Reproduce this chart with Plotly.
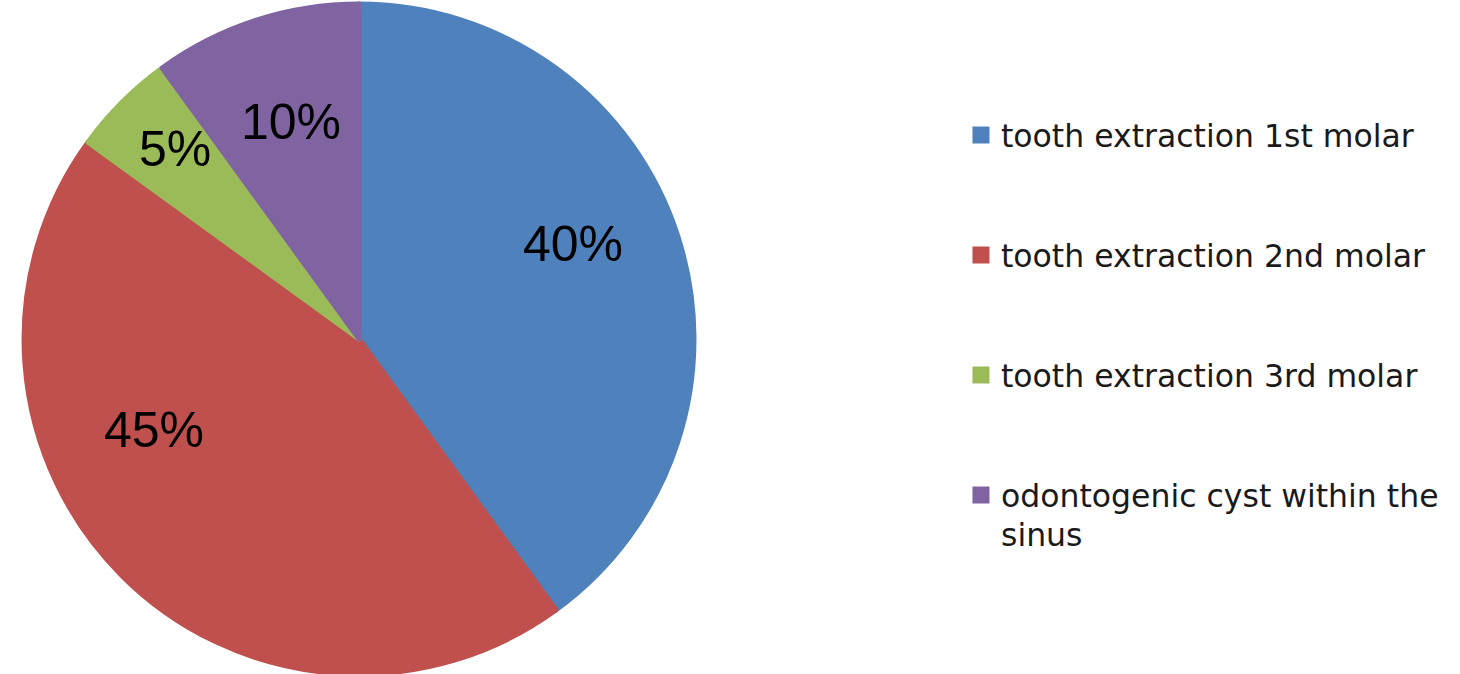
import math
import plotly.graph_objects as go

categories = ["tooth extraction 1st molar", "tooth extraction 2nd molar",
              "tooth extraction 3rd molar", "odontogenic cyst within the<br>sinus"]
values = [40, 45, 5, 10]
colors = ["#4F81BD", "#C0504D", "#9BBB59", "#8064A2"]

# label placement style (radial fraction and angular nudge, degrees)
label_radius = [0.70, 0.67, 0.79, 0.68]
label_angle_nudge = [-6, 21, 1, 0.5]

W, H = 1460, 674
dom_x = [0.0151, 0.4767]
dom_y = [0.0, 0.994]

# legend labels padded with blank lines to reproduce the wide item spacing
def big(s):
    return "<br>".join(f'<span style="font-size:31.5px">{p}</span>' for p in s.split("<br>"))

legend_labels = []
for c in categories:
    if "<br>" in c:
        legend_labels.append(" <br>" + big(c))
    else:
        legend_labels.append(" <br>" + big(c) + "<br> ")

fig = go.Figure(go.Pie(
    labels=legend_labels,
    values=values,
    sort=False,
    direction="clockwise",
    rotation=0,
    marker=dict(colors=colors, line=dict(color=colors, width=5)),
    textinfo="none",
    domain=dict(x=dom_x, y=dom_y),
    hoverinfo="percent",
))

# percentage labels placed from the slice angles
total = sum(values)
cx = (dom_x[0] + dom_x[1]) / 2
cy = (dom_y[0] + dom_y[1]) / 2
R = min((dom_x[1] - dom_x[0]) * W, (dom_y[1] - dom_y[0]) * H) / 2
cum = 0
for v, rf, nudge in zip(values, label_radius, label_angle_nudge):
    mid = (cum + v / 2) / total * 360 + nudge
    cum += v
    th = math.radians(mid)
    fig.add_annotation(
        x=cx + rf * R * math.sin(th) / W,
        y=cy + rf * R * math.cos(th) / H,
        xref="paper", yref="paper",
        text=f"{round(v / total * 100)}%",
        showarrow=False,
        font=dict(family="Liberation Sans, Arial", size=50, color="#000000"),
        xanchor="center", yanchor="middle",
    )

fig.update_layout(
    width=W, height=H,
    margin=dict(l=0, r=0, t=0, b=0),
    paper_bgcolor="white",
    plot_bgcolor="white",
    showlegend=True,
    legend=dict(
        x=0.6582, xanchor="left", y=0.896, yanchor="top",
        font=dict(family="DejaVu Sans, Open Sans, sans-serif", size=30, color="#1a1a1a"),
        bgcolor="rgba(0,0,0,0)",
        traceorder="normal",
    ),
)

fig.write_html("out.html", config={"displayModeBar": False},
               post_script="document.body.style.margin='0';")
